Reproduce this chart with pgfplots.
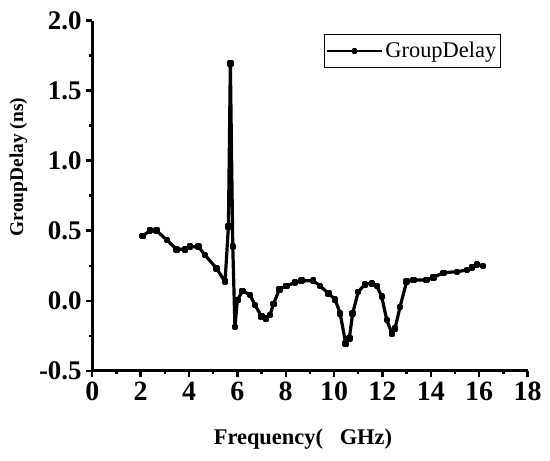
\documentclass[border=0pt]{standalone}
\usepackage{fontspec}
\setmainfont{Liberation Serif}
\usepackage{pgfplots}
\pgfplotsset{compat=1.18}
\begin{document}
\begin{tikzpicture}
\useasboundingbox (-92.3bp,-90.3bp) rectangle (457.7bp,370.7bp);
\begin{axis}[
  scale only axis,
  width=435.2bp, height=350bp,
  at={(0,0)}, anchor=south west,
  xmin=0, xmax=18, ymin=-0.5, ymax=2.0,
  axis x line*=bottom, axis y line*=left,
  axis line style={line width=2.8bp},
  every tick/.style={black, line width=2.4bp},
  tick align=outside,
  major tick length=6.5bp, minor tick length=3.5bp,
  xtick={0,2,...,18},
  xticklabels={0,2,4,6,8,10,12,14,16,18},
  ytick={-0.5,0,0.5,1.0,1.5,2.0},
  yticklabels={-0.5,0.0,0.5,1.0,1.5,2.0},
  minor x tick num=1, minor y tick num=1,
  xticklabel style={font=\fontsize{28}{28}\selectfont\bfseries, inner sep=0pt, anchor=north, yshift=-5bp},
  yticklabel style={font=\fontsize{27}{27}\selectfont\bfseries, inner sep=0pt, anchor=east, xshift=-4bp},
  xlabel={\fontsize{22.5}{22.5}\selectfont\bfseries Frequency(\ \ \ GHz)},
  ylabel={\fontsize{19.5}{19.5}\selectfont\bfseries GroupDelay (ns)},
  xlabel style={at={(axis description cs:0.484,-0.212)}, anchor=base, inner sep=0pt},
  ylabel style={at={(axis description cs:-0.159,0.582)}, anchor=base, inner sep=0pt},
  legend style={at={(axis description cs:0.532,0.962)}, anchor=north west, draw=black, line width=0.8bp,
    font=\fontsize{22.5}{22.5}\selectfont, inner xsep=2bp, inner ysep=6bp, row sep=0pt},
  legend cell align=left,
  legend image code/.code={\draw[mark repeat=2,mark phase=2,#1, line width=2.2bp, mark size=1.5bp] plot coordinates {(0bp,0bp) (27.5bp,0bp) (55bp,0bp)};},
]
\addplot[black, line width=3.2bp, line join=round, mark=square*, mark size=1.6bp] coordinates {
(2.07,0.462) (2.39,0.50) (2.66,0.50) (3.08,0.433) (3.49,0.367) (3.83,0.367)
(4.04,0.386) (4.39,0.386) (4.66,0.326) (5.14,0.231) (5.49,0.136) (5.63,0.53)
(5.71,1.695) (5.81,0.386) (5.90,-0.186) (6.0,0.005) (6.22,0.071) (6.52,0.04)
(6.73,-0.03) (7.0,-0.114) (7.19,-0.126) (7.35,-0.102) (7.49,-0.024) (7.74,0.081)
(8.04,0.107) (8.39,0.129) (8.66,0.143) (9.14,0.143) (9.42,0.105) (9.77,0.052)
(10.04,0.01) (10.25,-0.09) (10.48,-0.305) (10.63,-0.269) (10.77,-0.09) (11.0,0.064)
(11.28,0.117) (11.56,0.124) (11.77,0.105) (11.97,0.029) (12.18,-0.138) (12.39,-0.233)
(12.52,-0.198) (12.73,-0.043) (13.0,0.136) (13.28,0.148) (13.83,0.148) (14.11,0.167)
(14.52,0.2) (15.08,0.207) (15.49,0.219) (15.70,0.236) (15.9,0.26) (16.15,0.248)
};
\addlegendentry{GroupDelay}
\end{axis}
\end{tikzpicture}
\end{document}
